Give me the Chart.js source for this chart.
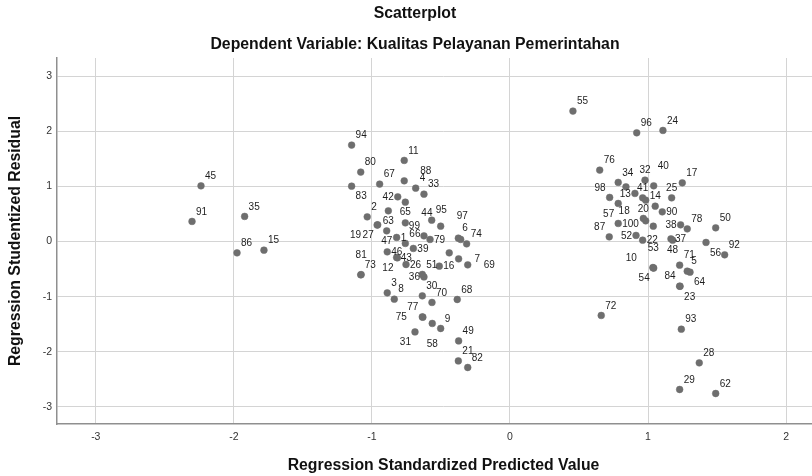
<!DOCTYPE html>
<html><head><meta charset="utf-8">
<script src="https://cdn.jsdelivr.net/npm/chart.js@4.4.1/dist/chart.umd.min.js"></script>
<style>html,body{margin:0;padding:0;background:#fff;overflow:hidden;width:812px;height:476px}canvas{display:block}</style>
</head><body>
<canvas id="c" width="834" height="476"></canvas>
<script>
const caseIds = Array.from({length:100},(_, i)=>i+1);
const predicted = [
-0.821,-1.034,-0.889,-0.683,1.284,-0.374,-0.372,-0.838,-0.502,1.035,
-0.766,-0.815,0.905,1.052,-1.782,-0.512,1.248,0.983,-0.962,0.966,
-0.374,0.961,1.232,1.108,1.171,-0.753,-0.958,1.371,1.229,-0.635,
-0.688,0.978,-0.623,0.784,-1.922,-0.623,1.166,1.236,-0.700,1.041,
0.961,-0.813,-0.821,-0.758,-2.238,-0.889,-0.893,1.178,-0.372,1.490,
-0.635,0.913,1.038,1.041,0.456,1.420,0.784,-0.563,-0.357,-0.440,
0.840,1.490,-0.881,1.304,-0.758,-0.758,-0.944,-0.382,-0.306,-0.565,
1.229,0.661,-1.081,-0.314,-0.631,0.650,-0.635,1.284,-0.579,-1.081,
-1.078,-0.306,-1.147,1.229,0.983,-1.977,0.719,-0.766,1.038,1.103,
-2.303,1.555,1.241,-1.147,-0.567,0.918,-0.502,0.722,-0.623,0.784];
const residual = [
0.074,0.448,-0.931,0.969,-0.537,0.062,-0.314,-1.045,-1.577,-0.472,
1.472,-0.295,0.873,0.642,-0.156,-0.446,1.065,0.376,0.300,0.419,
-2.165,0.025,-0.812,2.016,0.793,-0.416,0.303,-2.201,-2.684,-0.985,
-1.639,1.114,0.860,1.073,0.456,-0.641,0.049,0.303,-0.125,1.011,
0.793,0.811,-0.289,0.339,1.011,-0.187,0.194,0.025,-1.802,0.249,
-0.597,0.111,-0.477,-0.481,2.367,-0.016,0.691,-1.486,0.038,-0.205,
0.993,-2.757,0.557,-0.555,0.715,-0.034,1.042,-1.051,-0.423,-1.105,
-0.428,-1.341,-0.604,-0.042,-1.372,1.296,-1.367,0.230,0.038,1.260,
-0.600,-2.285,1.005,-0.809,0.751,-0.205,0.085,1.102,0.279,0.539,
0.365,-0.241,-1.590,1.750,0.388,1.973,0.279,0.800,0.103,0.328];
// label placement hints (compass side of the marker; '' = label hidden by overlap)
const labelAnchor = [
'e','ne','ne','ne','ne','ne','e2','ne','ne','nw2',
'ne','sw','w','n','ne','e','ne','nw2','sw2','n',
'ne','e','se','ne','n','e','sw','ne','ne','ne',
'sw','n','ne','ne','ne','w','e','w','e','nne',
'n','w','e','ne2','ne','e','s','s','ne','ne',
'ne','w','n2','sw','ne','se','sw','s2','','',
'','ne','s','se','s','ne','ne','ne','e2','ne',
'ne','ne','ne','ne','w2','ne','nw','ne','e','ne',
'n2','ne','se','nw','','ne','nw','ne2','','e',
'ne','ne','ne','ne','ne','ne','ne2','nw','nw','e'];
const xTickValues = [-3,-2,-1,0,1,2];
const yTickValues = [-3,-2,-1,0,1,2,3];

const FONT = '"Liberation Sans", Arial, sans-serif';
const OFF = {n:[0,-1],n2:[0,-2],s:[0,1],s2:[0,2],e:[1,0],e2:[2,0],w:[-1,0],w2:[-2,0],
  ne:[1,-1],ne2:[2,-1],nne:[1,-2],nw:[-1,-1],nw2:[-2,-1],se:[1,1],se2:[2,1],sw:[-1,1],sw2:[-2,1]};

const caseLabels = {
  id:'caseLabels',
  afterDatasetsDraw(chart){
    const ctx = chart.ctx, meta = chart.getDatasetMeta(0);
    ctx.save();
    ctx.font = '10px ' + FONT; ctx.fillStyle = '#1e1e1e';
    ctx.textAlign = 'center'; ctx.textBaseline = 'middle';
    meta.data.forEach((pt, i) => {
      const a = labelAnchor[i]; if (!a) return;
      const [ax, ay] = OFF[a];
      const txt = String(caseIds[i]);
      const w = ctx.measureText(txt).width;
      const dx = ax === 0 ? 0 : Math.sign(ax) * (4 + w/2 + (Math.abs(ax)-1)*12);
      const dy = ay * 10;
      ctx.fillText(txt, pt.x + dx, pt.y + dy + 0.5);
    });
    ctx.restore();
  }
};

const points = predicted.map((x, i) => ({x, y: residual[i]}));

new Chart(document.getElementById('c'), {
  type: 'scatter',
  data: { datasets: [{ data: points, backgroundColor: '#6e6e6e', borderColor: '#6e6e6e',
    borderWidth: 0.5, pointRadius: 3.4, pointHoverRadius: 3.4 }] },
  options: {
    responsive: false, animation: false, devicePixelRatio: 1,
    layout: { padding: { left: 0, right: 4, top: 0, bottom: 0 } },
    plugins: {
      legend: { display: false }, tooltip: { enabled: false },
      title: { display: true, text: 'Scatterplot', color: '#111',
        font: { family: FONT, size: 15.8, weight: 'bold' }, padding: { top: 4.5, bottom: 6 } },
      subtitle: { display: true, text: 'Dependent Variable: Kualitas Pelayanan Pemerintahan', color: '#111',
        font: { family: FONT, size: 15.8, weight: 'bold' }, padding: { top: 6.06, bottom: 3.52 } }
    },
    scales: {
      x: {
        type: 'linear', min: -3.281, max: 2.318,
        afterBuildTicks: s => { s.ticks = xTickValues.map(v => ({value: v})); },
        afterFit: s => { s.height = 52; },
        grid: { color: '#d4d4d4', lineWidth: 1, drawTicks: false },
        border: { display: true, color: '#8f8f8f', width: 1.5 },
        ticks: { color: '#333', font: { family: FONT, size: 10.5 }, padding: 6.7, maxRotation: 0 },
        title: { display: true, text: 'Regression Standardized Predicted Value', color: '#111',
          font: { family: FONT, size: 15.8, weight: 'bold' }, padding: { top: 0, bottom: 0.5 } }
      },
      y: {
        type: 'linear', min: -3.31, max: 3.33,
        afterBuildTicks: s => { s.ticks = yTickValues.map(v => ({value: v})); },
        afterFit: s => { s.width = 57; },
        grid: { color: '#d4d4d4', lineWidth: 1, drawTicks: false },
        border: { display: true, color: '#8f8f8f', width: 1.5 },
        ticks: { color: '#333', font: { family: FONT, size: 10.5 }, padding: 5 },
        title: { display: true, text: 'Regression Studentized Residual', color: '#111',
          font: { family: FONT, size: 15.8, weight: 'bold' }, padding: { top: 6, bottom: 0 } }
      }
    }
  },
  plugins: [caseLabels]
});
</script>
</body></html>
